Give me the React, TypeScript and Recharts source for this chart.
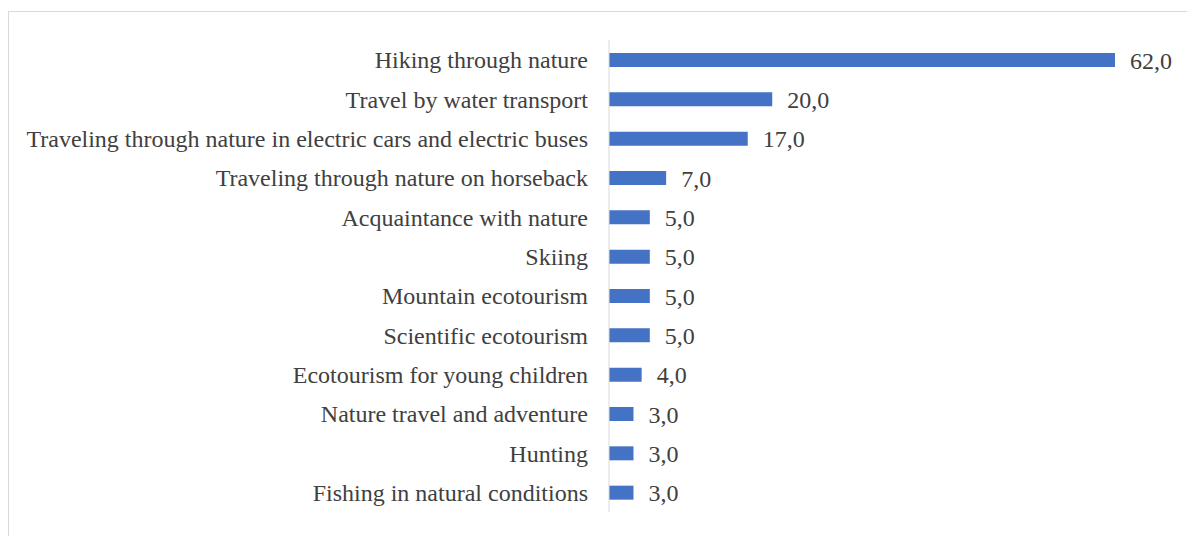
import { BarChart, Bar, XAxis, YAxis, LabelList } from "recharts"

const categories = [
  "Hiking through nature",
  "Travel by water transport",
  "Traveling through nature in electric cars and electric buses",
  "Traveling through nature on horseback",
  "Acquaintance with nature",
  "Skiing",
  "Mountain ecotourism",
  "Scientific ecotourism",
  "Ecotourism for young children",
  "Nature travel and adventure",
  "Hunting",
  "Fishing in natural conditions",
]

const shares = [62, 20, 17, 7, 5, 5, 5, 5, 4, 3, 3, 3]

const data = categories.map((name, i) => ({ name, value: shares[i] }))

const FONT = "'Liberation Serif', 'Times New Roman', serif"
const TEXT = "#404040"

const fmt = (v: any) => Number(v).toFixed(1).replace(".", ",")

export default function App() {
  return (
    <div
      style={{
        marginTop: 3,
        width: 1187,
        height: 525,
        borderLeft: "1px solid #d9d9d9",
        borderTop: "1px solid #d9d9d9",
        boxSizing: "border-box",
        background: "#fff",
      }}
    >
      <BarChart
        width={1186}
        height={524}
        data={data}
        layout="vertical"
        margin={{ top: 28, right: 80, bottom: 24, left: 0 }}
        barCategoryGap={0}
      >
        <XAxis type="number" domain={[0, 62]} hide />
        <YAxis
          type="category"
          dataKey="name"
          width={600}
          tickLine={false}
          tickSize={0}
          tickMargin={21}
          axisLine={{ stroke: "#d9d9d9", strokeWidth: 1 }}
          interval={0}
          tick={{ fill: TEXT, fontSize: 24, fontFamily: FONT }}
        />
        <Bar dataKey="value" fill="#4472c4" barSize={14} isAnimationActive={false}>
          <LabelList
            dataKey="value"
            position="right"
            offset={15}
            formatter={fmt}
            fill={TEXT}
            style={{ fontSize: 24, fontFamily: FONT }}
          />
        </Bar>
      </BarChart>
    </div>
  )
}
